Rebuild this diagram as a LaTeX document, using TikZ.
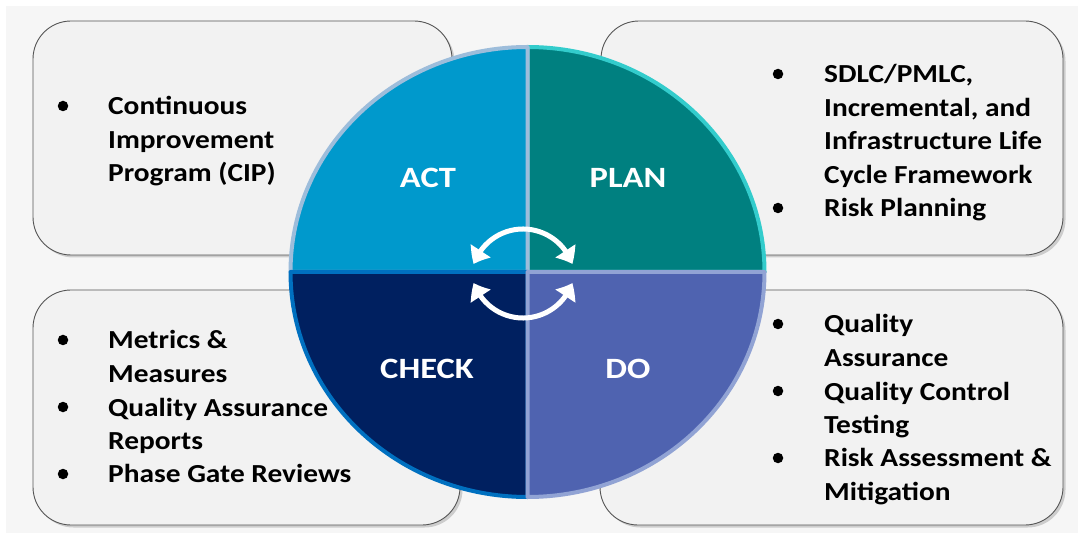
\documentclass[tikz,border=0pt]{standalone}
\usepackage{fontspec}
\setmainfont{Carlito}[FakeStretch=1.13]
\newfontfamily\phasefont{Carlito}[FakeStretch=1.17]
\usetikzlibrary{arrows.meta,bending}

\definecolor{pagebg}{RGB}{246,246,246}
\definecolor{boxfill}{RGB}{242,242,242}
\definecolor{boxline}{RGB}{85,85,85}
\definecolor{boxshade}{RGB}{205,205,205}
\definecolor{actfill}{RGB}{0,153,204}
\definecolor{actline}{RGB}{157,189,219}
\definecolor{planfill}{RGB}{0,128,128}
\definecolor{planline}{RGB}{51,204,204}
\definecolor{checkfill}{RGB}{0,32,96}
\definecolor{checkline}{RGB}{0,112,192}
\definecolor{dofill}{RGB}{79,99,176}
\definecolor{doline}{RGB}{145,163,212}

\tikzset{
  infobox/.style={fill=boxfill, draw=boxline, line width=0.9pt, rounded corners=38pt},
  boxshadow/.style={fill=boxshade, rounded corners=38pt},
  wedge/.style={line width=4pt, line join=round},
  itemtext/.style={anchor=base west, inner sep=0pt, font=\fontsize{26}{33.5}\selectfont\bfseries},
  bulletdot/.style={circle, fill=black, inner sep=0pt, minimum size=10.5pt},
  phase/.style={text=white, inner sep=0pt, anchor=base, font=\phasefont\fontsize{29.5}{34}\selectfont\bfseries},
  cyclearrow/.style={draw=white, line width=5pt, {Triangle[width=23pt,length=15pt,bend]}-{Triangle[width=23pt,length=15pt,bend]}}
}

\begin{document}
\begin{tikzpicture}[x=1pt,y=1pt]
\useasboundingbox (0,0) rectangle (1078,533);
\fill[white] (0,0) rectangle (1078,533);
\fill[pagebg] (6,0) rectangle (1078,527);

% four rounded text panels with a soft shadow
\fill[boxshadow] (35.5,275.5) rectangle (454.5,509.5);
\draw[infobox] (33,278) rectangle (452,512);
\fill[boxshadow] (603.5,275.5) rectangle (1065.5,509.5);
\draw[infobox] (601,278) rectangle (1063,512);
\fill[boxshadow] (35.5,5.5) rectangle (462.5,240.5);
\draw[infobox] (33,8) rectangle (460,243);
\fill[boxshadow] (602.5,5.5) rectangle (1065.5,240.5);
\draw[infobox] (600,8) rectangle (1063,243);

% quadrants of the cycle
\coordinate (c) at (527.5,261);
\draw[wedge, fill=planfill, draw=planline] (c) -- ++(0,225) arc[start angle=90, end angle=0, x radius=237, y radius=225] -- cycle;
\draw[wedge, fill=actfill, draw=actline] (c) -- ++(-237,0) arc[start angle=180, end angle=90, x radius=237, y radius=225] -- cycle;
\draw[wedge, fill=checkfill, draw=checkline] (c) -- ++(-237,0) arc[start angle=180, end angle=270, x radius=237, y radius=225] -- cycle;
\draw[wedge, fill=dofill, draw=doline] (c) -- ++(0,-225) arc[start angle=270, end angle=360, x radius=237, y radius=225] -- cycle;

\node[phase] (act) at (428,345.5) {ACT};
\node[phase] (plan) at (628,345.5) {PLAN};
\node[phase] (check) at (427,154.5) {CHECK};
\node[phase] (do) at (628,154.5) {DO};

% circular arrows in the middle
\coordinate (upc) at (523,252);
\coordinate (loc) at (523,267);
\draw[cyclearrow] (upc) ++(19:52) arc[start angle=19, end angle=161, radius=52];
\draw[cyclearrow] (loc) ++(-19:52) arc[start angle=-19, end angle=-161, radius=52];

% ACT panel
\node[bulletdot] (ba1) at (63,427) {};
\node[itemtext] (ta) at (108,418) {\begin{tabular}[t]{@{}l@{}}Continuous\\Improvement\\Program (CIP)\end{tabular}};

% PLAN panel
\node[bulletdot] (bp1) at (778,459) {};
\node[bulletdot] (bp2) at (778,325) {};
\node[itemtext] (tp) at (824,450) {\begin{tabular}[t]{@{}l@{}}SDLC/PMLC,\\Incremental, and\\Infrastructure Life\\Cycle Framework\\Risk Planning\end{tabular}};

% CHECK panel
\node[bulletdot] (bc1) at (63,193) {};
\node[bulletdot] (bc2) at (63,126) {};
\node[bulletdot] (bc3) at (63,59) {};
\node[itemtext] (tc) at (108,184) {\begin{tabular}[t]{@{}l@{}}Metrics \&\\Measures\\Quality Assurance\\Reports\\Phase Gate Reviews\end{tabular}};

% DO panel
\node[bulletdot] (bd1) at (778,209) {};
\node[bulletdot] (bd2) at (778,142) {};
\node[bulletdot] (bd3) at (778,75) {};
\node[itemtext] (td) at (824,200) {\begin{tabular}[t]{@{}l@{}}Quality\\Assurance\\Quality Control\\Testing\\Risk Assessment \&\\Mitigation\end{tabular}};
\end{tikzpicture}
\end{document}
